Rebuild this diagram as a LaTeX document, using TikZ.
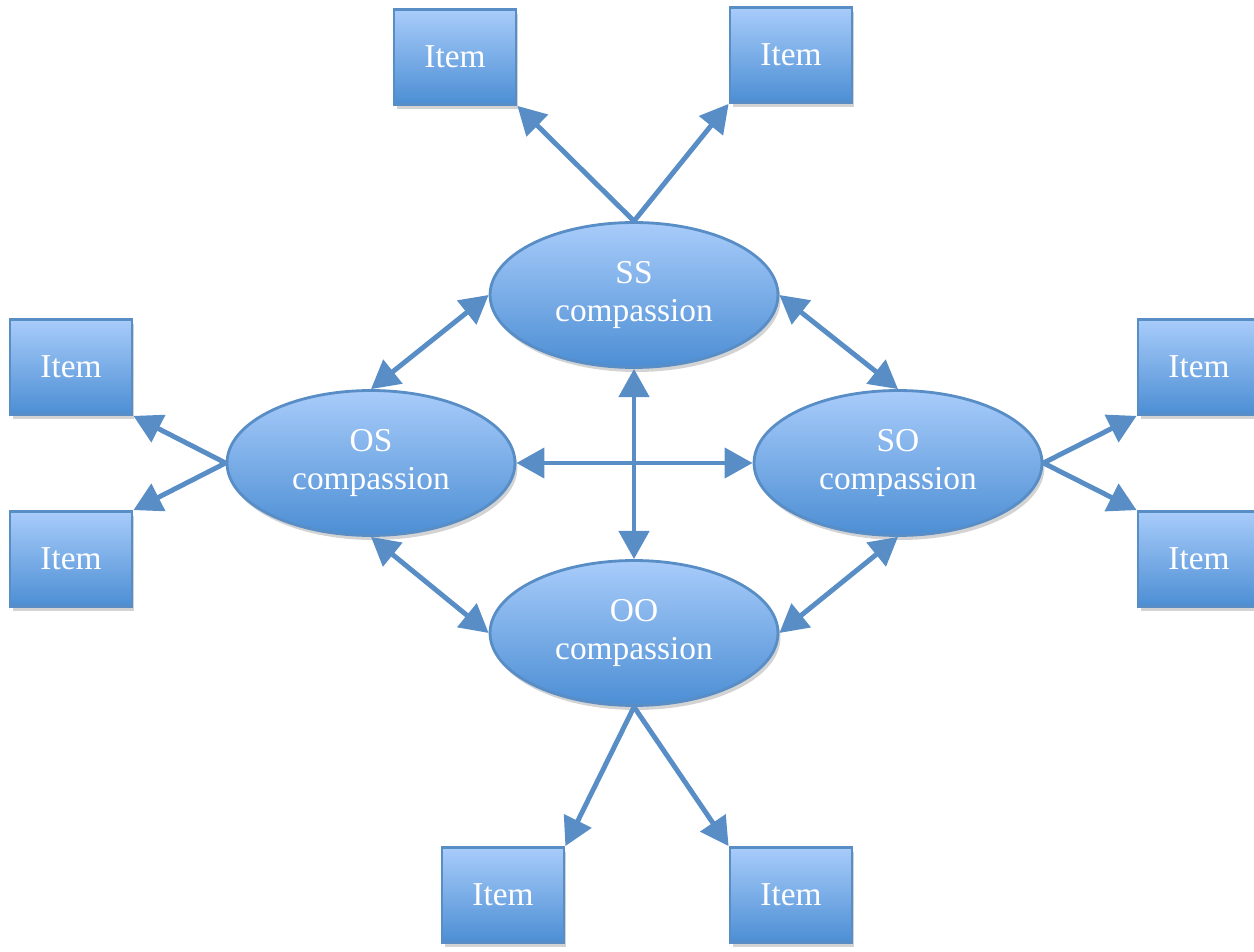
\documentclass[tikz,border=0pt]{standalone}
\usepackage{fontspec}
\setmainfont{Liberation Serif}
\usetikzlibrary{shapes.geometric, positioning, arrows.meta, shadows}
\definecolor{lineblue}{RGB}{88,141,198}
\definecolor{topblue}{RGB}{168,204,250}
\definecolor{botblue}{RGB}{76,142,212}

\begin{document}
\begin{tikzpicture}[x=0.02cm,y=-0.02cm,>={Triangle[length=16pt,width=17pt]},
    every node/.style={text=white,font=\fontsize{19}{22}\selectfont},
    softshadow/.style={drop shadow={opacity=0.35,shadow xshift=0.5mm,shadow yshift=-0.9mm}},
    compbox/.style={ellipse,draw=lineblue,line width=1.6pt,top color=topblue,bottom color=botblue,
      minimum width=5.76cm,minimum height=2.9cm,inner sep=0pt,align=center,softshadow},
    itembox/.style={rectangle,draw=lineblue,line width=1.6pt,top color=topblue,bottom color=botblue,
      minimum width=2.44cm,minimum height=1.9cm,inner sep=0pt,softshadow},
    link/.style={draw=lineblue,line width=2.8pt}]
  \useasboundingbox (0,0) rectangle (1254,952);
  % the four compassion ellipses
  \node[compbox] (ss) at (634,295) {SS\\compassion};
  \node[compbox] (os) at (371,463) {OS\\compassion};
  \node[compbox] (so) at (898,463) {SO\\compassion};
  \node[compbox] (oo) at (634,633) {OO\\compassion};
  % the items
  \node[itembox] (ssl) at (455,57) {Item};
  \node[itembox] (ssr) at (791,55) {Item};
  \node[itembox] (osu) at (71,367) {Item};
  \node[itembox] (osd) at (71,559) {Item};
  \node[itembox] (sou) at (1199,367) {Item};
  \node[itembox] (sod) at (1199,559) {Item};
  \node[itembox] (ool) at (503,895) {Item};
  \node[itembox] (oor) at (791,895) {Item};
  % links between the ellipses
  \draw[link,<->] (ss.west) -- (os.north);
  \draw[link,<->] (ss.east) -- (so.north);
  \draw[link,<->] (os.south) -- (oo.west);
  \draw[link,<->] (so.south) -- (oo.east);
  \draw[link,<->] (os.east) -- (so.west);
  \draw[link,<->] (ss.south) -- (oo.north);
  % links out to the items
  \draw[link,->] (ss.north) -- (ssl.south east);
  \draw[link,->] (ss.north) -- (ssr.south west);
  \draw[link,->] (os.west) -- (osu.south east);
  \draw[link,->] (os.west) -- (osd.north east);
  \draw[link,->] (so.east) -- (sou.south west);
  \draw[link,->] (so.east) -- (sod.north west);
  \draw[link,->] (oo.south) -- (ool.north east);
  \draw[link,->] (oo.south) -- (oor.north west);
\end{tikzpicture}
\end{document}
